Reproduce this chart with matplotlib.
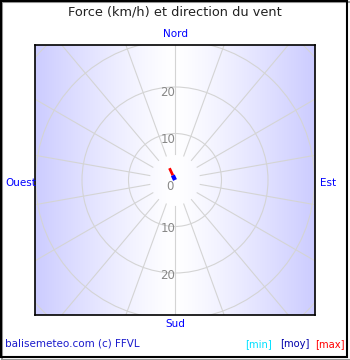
import numpy as np
import matplotlib
matplotlib.use("Agg")
import matplotlib.pyplot as plt
from matplotlib.patches import Circle, Rectangle

# wind data (km/h, direction in degrees from north)
direction = 335
vmin = 0.0
vmoy = 1.1
vmax = 2.8

rings = [10, 20, 30, 40]
ring_labels = [10, 20]
spokes = list(range(0, 360, 20))
compass = ["Nord", "Est", "Sud", "Ouest"]
legend_txt = ["[min]", "[moy]", "[max]"]
legend_col = ["#00e0ff", "#0000aa", "#ff0000"]

W, H = 350, 360
fig = plt.figure(figsize=(W / 100, H / 100), dpi=100)
fig.patch.set_facecolor("white")

# plot area 35..315 x, 45..315 y (pixels), centre at (175,180)
ax = fig.add_axes([35 / W, 1 - 315 / H, 280 / W, 270 / H])
px = 4.65  # pixels per km/h
xl = 140 / px
ax.set_xlim(-xl, xl)
ax.set_ylim(-135 / px, 135 / px)
ax.set_xticks([])
ax.set_yticks([])
for s in ax.spines.values():
    s.set_linewidth(1.2)
    s.set_color("black")

# background gradient: lavender at sides, white in the middle
xs = np.linspace(-1, 1, 300)
t = np.abs(xs) ** 1.2
edge = np.array([0.8, 0.8, 1.0])
img = (1 - t)[:, None] * np.array([1, 1, 1]) + t[:, None] * edge
ax.imshow(img[None, :, :], extent=[-xl, xl, -135 / px, 135 / px],
          aspect="auto", zorder=0)

# grid rings and spokes
gc = "#d4d4d4"
for r in rings:
    ax.add_patch(Circle((0, 0), r, fill=False, ec=gc, lw=0.8, zorder=1))
for b in spokes:
    a = np.radians(b)
    ax.plot([5.5 * np.sin(a), 50 * np.sin(a)], [5.5 * np.cos(a), 50 * np.cos(a)],
            color=gc, lw=0.8, zorder=1)

# ring labels
for r in ring_labels:
    ax.text(0.1, r + 0.2, str(r), ha="right", va="top", fontsize=8.5,
            color="#888888", zorder=2)
    ax.text(0.1, -r - 0.5, str(r), ha="right", va="center", fontsize=8.5,
            color="#888888", zorder=2)
ax.text(-0.4, 0.1, "0", ha="right", va="top", fontsize=8.5, color="#888888", zorder=2)

# wind vectors
a = np.radians(direction)
ux, uy = np.sin(a), np.cos(a)
ax.plot([0, vmin * ux], [0, vmin * uy], color=legend_col[0], lw=2.5, zorder=4)
ax.plot([vmin * ux, vmoy * ux], [vmin * uy, vmoy * uy], color="blue", lw=3,
        zorder=4, solid_capstyle="butt")
ax.plot([vmoy * ux, vmax * ux], [vmoy * uy, vmax * uy], color="red", lw=2,
        zorder=3, solid_capstyle="butt")

# texts
fig.text(175 / W, 1 - 12 / H, "Force (km/h) et direction du vent", ha="center",
         va="center", fontsize=9.3, color="#222222")
fig.text(176 / W, 1 - 34 / H, compass[0], ha="center", va="center", fontsize=7.5, color="blue")
fig.text(320 / W, 1 - 183 / H, compass[1], ha="left", va="center", fontsize=7.5, color="blue")
fig.text(175 / W, 1 - 324 / H, compass[2], ha="center", va="center", fontsize=7.5, color="blue")
fig.text(5 / W, 1 - 183 / H, compass[3], ha="left", va="center", fontsize=7.5, color="blue")

fig.text(5 / W, 1 - 344 / H, "balisemeteo.com (c) FFVL", ha="left", va="center",
         fontsize=7.5, color="#1a1acc")
for txt, col, x in zip(legend_txt, legend_col, [245, 280, 315]):
    fig.text(x / W, 1 - 344 / H, txt, ha="left", va="center", fontsize=7.2, color=col)

# outer frame with shadow
fig.patches.append(Rectangle((2 / W, 0), (W - 1) / W, (H - 2) / H, transform=fig.transFigure,
                             fill=False, ec="#999999", lw=1.5, zorder=0))
fig.patches.append(Rectangle((0.7 / W, 3 / H), (W - 3.5) / W, (H - 3.7) / H,
                             transform=fig.transFigure, fill=False, ec="black", lw=1.5))

fig.savefig("out.png", dpi=100)
